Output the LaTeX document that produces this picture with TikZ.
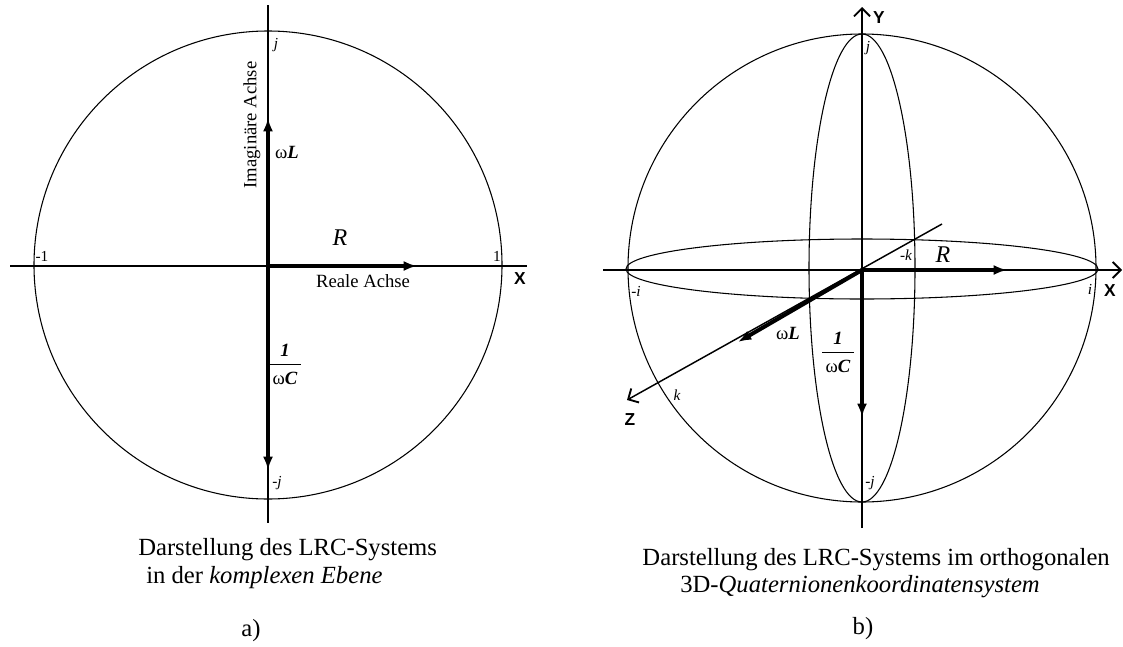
\documentclass[tikz,border=0pt]{standalone}
\usepackage{fontspec}
\setmainfont{Liberation Serif}
\newfontfamily\axfont{Liberation Sans}
\usetikzlibrary{arrows.meta}
\newcommand{\myfrac}{\begin{tabular}{@{\,}c@{\,}}\textbf{\textit{1}}\\[1pt]\hline\rule{0pt}{15pt}ω\textbf{\textit{C}}\end{tabular}}
\begin{document}
\begin{tikzpicture}[x=0.75pt,y=-0.75pt,
  thinline/.style={line width=0.8pt},
  axis/.style={line width=1.1pt},
  vec/.style={line width=3pt,-{Latex[length=10pt,width=7.5pt]}},
  openax/.style={axis,-{Straight Barb[length=6pt,width=12pt,line width=1.4pt]}},
  lbl/.style={font=\fontsize{14}{16}\selectfont,inner sep=1pt},
  big/.style={font=\itshape\fontsize{18}{20}\selectfont,inner sep=1pt},
  captxt/.style={font=\fontsize{18.5}{22}\selectfont,inner sep=0pt},
  axl/.style={font=\axfont\bfseries\fontsize{13}{15}\selectfont,inner sep=1pt},
  pt/.style={font=\itshape\fontsize{11.5}{13}\selectfont,inner sep=1pt},
  num/.style={font=\fontsize{11.5}{13}\selectfont,inner sep=1pt}
]
\useasboundingbox (0,0) rectangle (1123,646);
% ---------- left panel ----------
\coordinate (C1) at (268,265);
\coordinate (O1) at (268,266);
\coordinate (L1) at (10,266);
\coordinate (R1) at (527,266);
\coordinate (T1) at (268,5);
\coordinate (B1) at (268,523);
\coordinate (U1) at (268,118);
\coordinate (E1) at (417,266);
\coordinate (D1) at (268,470);
\draw[thinline] (C1) circle[radius=234];
\draw[axis] (L1) -- (R1);
\draw[axis] (T1) -- (B1);
\draw[vec] (O1) -- (U1);
\draw[vec] (O1) -- (E1);
\draw[vec] (O1) -- (D1);
\node[pt] (j1) at (276,45) {j};
\node[pt] (mj1) at (277,483) {-j};
\node[num] (m11) at (42,256) {-1};
\node[num] (p11) at (497,256) {1};
\node[axl] (X1) at (520,279) {X};
\node[lbl,rotate=90] (im) at (252,125) {Imaginäre Achse};
\node[lbl] (wL1) at (287,152) {ω\textbf{\textit{L}}};
\node[big] (R1l) at (340,238) {R};
\node[lbl] (re) at (363,281) {Reale Achse};
\node[lbl,inner sep=0pt] (fr1) at (285,366) {\myfrac};
\node[captxt,anchor=west] (c1a) at (138,550) {Darstellung des LRC-Systems};
\node[captxt,anchor=west] (c1b) at (146,578) {in der \textit{komplexen Ebene}};
\node[captxt] (a) at (251,631) {a)};
% ---------- right panel ----------
\coordinate (C2) at (862,268);
\coordinate (O2) at (862,270);
\coordinate (L2) at (603,270);
\coordinate (R2) at (1122,270);
\coordinate (T2) at (862,7);
\coordinate (B2) at (862,528);
\coordinate (Zb) at (942,224);
\coordinate (Zt) at (627,400);
\coordinate (E2) at (1007,270);
\coordinate (D2) at (862,417);
\coordinate (W2) at (738,342);
\draw[thinline] (C2) circle[radius=234];
\draw[thinline] (C2) ellipse[x radius=53,y radius=234];
\draw[thinline] (862,269) ellipse[x radius=236,y radius=30];
\draw[openax] (L2) -- (R2);
\draw[openax] (B2) -- (T2);
\draw[openax] (Zb) -- (Zt);
\draw[vec] (O2) -- (E2);
\draw[vec] (O2) -- (D2);
\draw[vec] (O2) -- (W2);
\node[pt] (mk) at (906,255) {-k};
\node[big] (R2l) at (943,255) {R};
\node[pt] (mi) at (636,291) {-i};
\node[pt] (i2) at (1090,289) {i};
\node[pt] (j2) at (868,48) {j};
\node[pt] (mj2) at (870,483) {-j};
\node[pt] (k2) at (677,395) {k};
\node[axl] (Z2) at (630,420) {Z};
\node[axl] (X2) at (1110,291) {X};
\node[axl] (Y2) at (879,18) {Y};
\node[lbl] (wL2) at (788,333) {ω\textbf{\textit{L}}};
\node[lbl,inner sep=0pt] (fr2) at (838,354) {\myfrac};
\node[captxt,anchor=east] (c2a) at (1110,560) {Darstellung des LRC-Systems im orthogonalen};
\node[captxt,anchor=east] (c2b) at (1040,587) {3D-\textit{Quaternionenkoordinatensystem}};
\node[captxt] (b) at (863,629) {b)};
\end{tikzpicture}
\end{document}
